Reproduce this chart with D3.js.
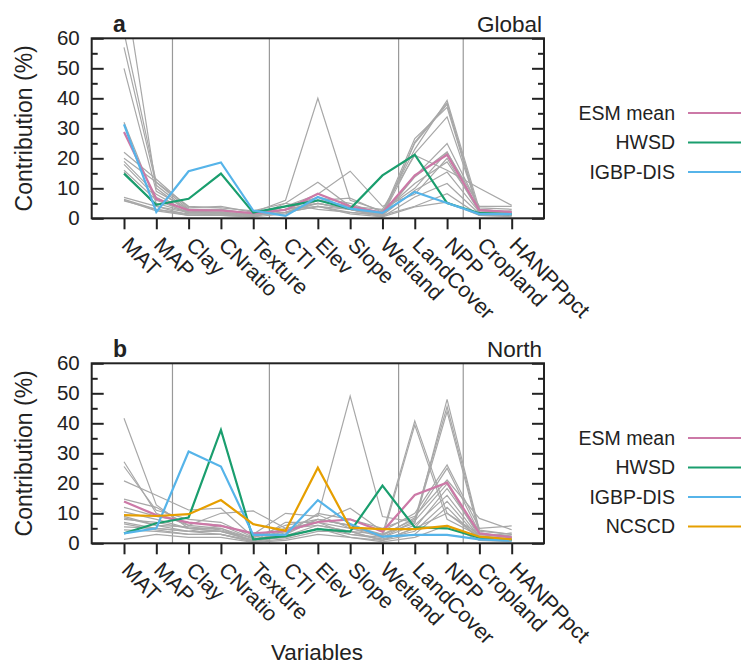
<!DOCTYPE html>
<html>
<head>
<meta charset="utf-8">
<script src="https://cdn.jsdelivr.net/npm/d3@7"></script>
<style>
body { margin: 0; background: #fff; }
svg { font-family: "Liberation Sans", Arial, Helvetica, sans-serif; }
</style>
</head>
<body>
<div id="chart"></div>
<script>
// variables (x axis), in plotting order
var variables = ["MAT", "MAP", "Clay", "CNratio", "Texture", "CTI", "Elev", "Slope", "Wetland", "LandCover", "NPP", "Cropland", "HANPPpct"];
var yTicks = [0, 10, 20, 30, 40, 50, 60];
var yMinorTicks = [5, 15, 25, 35, 45, 55];
var groupBreaks = [2.5, 5.5, 9.5, 11.5]; // gray separators between variable groups

// a: Global
var globalEsmMean = [28.8, 6.5, 2.7, 2.6, 1.7, 2.8, 8.2, 4.0, 1.8, 14.3, 21.2, 2.7, 2.1];
var globalHwsd    = [14.9, 4.5, 6.5, 14.9, 1.9, 4.0, 6.0, 3.2, 14.3, 21.2, 5.1, 1.7, 1.4];
var globalIgbp    = [31.3, 2.1, 15.7, 18.6, 2.6, 0.8, 7.1, 3.2, 1.8, 8.8, 5.1, 1.4, 1.4];
var globalModels = [
	[79, 10, 2, 2, 1, 3, 5, 3, 1, 25, 38, 2, 1.5],
	[62, 12, 3, 3, 1.5, 4, 6, 4, 2, 23, 39.3, 3, 2],
	[57, 11, 2.5, 2, 1, 2, 4, 3, 1.5, 26.6, 37, 1.5, 1],
	[50, 9, 3, 2.5, 1.5, 3, 7, 5, 1, 21.6, 33.8, 2, 2.5],
	[32, 5, 2, 3, 1, 2, 6, 4, 1, 14, 24.9, 3.5, 3],
	[22, 13, 3.5, 4, 2, 6, 40, 6, 2.5, 10, 22, 4, 4],
	[20, 12, 4, 3.5, 2.5, 5, 12, 4, 3, 21, 16, 10, 4.3],
	[19, 8, 2, 2, 1, 4, 8, 15.7, 4, 8, 20, 2, 1.5],
	[18, 7, 1.5, 1.5, 0.5, 3, 5, 3, 0.5, 25.4, 38.5, 1, 1],
	[16, 6, 2, 2, 1, 2, 4, 2, 1, 13.8, 22.1, 2.5, 2],
	[15.4, 4, 1, 1, 0.5, 1.5, 6, 6.7, 2, 11.6, 18.8, 3, 2],
	[7, 4, 2, 2, 1, 2, 5, 3, 1, 9.3, 15.4, 2, 1],
	[6.3, 3, 1.5, 1.5, 1, 4, 7, 3, 0.5, 7.1, 11.6, 1.5, 1],
	[6, 2.5, 1, 1, 0.5, 5, 3, 2, 1, 4, 8.2, 1, 0.5],
	[5.8, 3, 1, 1.5, 1, 3, 4, 1.5, 0.5, 3.8, 5.4, 1, 0.8]
];

// b: North
var northEsmMean = [13.9, 9.4, 6.9, 5.8, 3.3, 4.1, 7.1, 8.0, 3.9, 16.1, 20.2, 3.3, 2.0];
var northHwsd    = [3.3, 6.7, 8.6, 37.8, 1.3, 2.4, 4.7, 3.9, 19.2, 5.3, 5.0, 1.9, 1.1];
var northIgbp    = [3.3, 5.0, 30.6, 25.6, 2.8, 2.8, 14.4, 6.4, 2.2, 2.8, 2.8, 1.3, 0.9];
var northNcscd   = [9.4, 9.1, 9.7, 14.4, 6.4, 4.2, 25.2, 5.2, 4.7, 4.7, 5.8, 2.2, 1.3];
var northModels = [
	[41.7, 12.8, 5, 4, 2, 4, 7, 5, 3, 40.8, 10, 3, 2],
	[27.2, 10, 6, 5, 1.5, 3, 8, 6, 2, 39.4, 8, 2.5, 1.5],
	[25.6, 11, 8, 7, 2, 5, 6, 4, 3, 6.7, 48, 4.4, 3],
	[20.8, 16, 11.1, 11.7, 2, 6, 8, 6, 3, 8, 45.6, 4, 3],
	[14.7, 12, 6, 10, 10.8, 5, 7, 11.7, 4, 10, 26.1, 5, 5.8],
	[12, 9, 7, 6, 3, 10, 9, 49.1, 8.9, 7, 43.9, 3, 2],
	[10.5, 8, 5, 4, 1, 3, 10, 8, 5, 9, 21.1, 8.3, 4.5],
	[9, 6, 4, 4, 1, 2, 5, 3, 2, 7.5, 19.8, 2, 1],
	[8, 7, 5, 5, 0.5, 2.5, 6, 4, 1, 5, 18.3, 3, 2.5],
	[7, 5, 4, 3, 1, 4, 9.5, 5, 2, 6, 16, 2, 1.5],
	[6.5, 4.5, 3, 3, 0.5, 7, 7, 3, 1.5, 4, 14, 1.5, 1],
	[5.5, 5, 4, 6, 1.5, 2, 5, 2, 1, 3, 12, 1, 0.5],
	[4.5, 4, 3, 3, 0.5, 1.5, 4, 4, 1, 5, 10, 2, 3.5],
	[1.3, 3, 2, 2, 0.3, 1, 3, 2, 0.5, 2, 6, 1, 1],
	[8.5, 6, 5.5, 4.5, 1, 3.5, 8, 6, 2.5, 8.5, 25, 3.5, 2]
];

var colors = { esm: "#cc79a7", hwsd: "#1a9e6e", igbp: "#56b4e9", ncscd: "#e69f00" };

var panels = [
	{ letter: "a", region: "Global", bottom: 218.3, models: globalModels, series: [
		{ name: "ESM mean", color: colors.esm, values: globalEsmMean },
		{ name: "HWSD", color: colors.hwsd, values: globalHwsd },
		{ name: "IGBP-DIS", color: colors.igbp, values: globalIgbp }
	] },
	{ letter: "b", region: "North", bottom: 543.3, models: northModels, series: [
		{ name: "ESM mean", color: colors.esm, values: northEsmMean },
		{ name: "HWSD", color: colors.hwsd, values: northHwsd },
		{ name: "IGBP-DIS", color: colors.igbp, values: northIgbp },
		{ name: "NCSCD", color: colors.ncscd, values: northNcscd }
	] }
];

var width = 741, height = 665;
var svg = d3.select("#chart").append("svg").attr("width", width).attr("height", height);

var x = d3.scaleLinear().domain([0, 14]).range([91.7, 544]);

function drawPanel(p){
	var y = d3.scaleLinear().domain([0, 60]).range([p.bottom, p.bottom - 180]);
	var g = svg.append("g").attr("class", "panel-" + p.letter);
	var clipId = "clip-" + p.letter;

	svg.append("clipPath").attr("id", clipId)
		.append("rect")
			.attr("x", x(0)).attr("y", y(60))
			.attr("width", x(14) - x(0)).attr("height", y(0) - y(60));

	g.selectAll(".sep")
			.data(groupBreaks)
		.enter().append("line")
			.attr("class", "sep")
			.attr("x1", d => x(d)).attr("x2", d => x(d))
			.attr("y1", y(0)).attr("y2", y(60))
			.attr("stroke", "#999").attr("stroke-width", 1.2);

	var line = d3.line().x((d, i) => x(i + 1)).y(d => y(d));
	var lines = g.append("g").attr("clip-path", "url(#" + clipId + ")");

	lines.selectAll(".model")
			.data(p.models)
		.enter().append("path")
			.attr("class", "model")
			.attr("d", line)
			.attr("fill", "none")
			.attr("stroke", "#a8a8a8")
			.attr("stroke-width", 1.2);

	lines.selectAll(".series")
			.data(p.series)
		.enter().append("path")
			.attr("class", "series")
			.attr("d", d => line(d.values))
			.attr("fill", "none")
			.attr("stroke", d => d.color)
			.attr("stroke-width", 2.2);

	// y axes, ticks pointing into the plot on both sides
	var left = g.append("g").attr("transform", "translate(" + x(0) + ",0)")
		.call(d3.axisLeft(y).tickValues(yTicks).tickSize(-12).tickPadding(12));
	left.append("g")
		.call(d3.axisLeft(y).tickValues(yMinorTicks).tickSize(-6).tickFormat(""));

	var right = g.append("g").attr("transform", "translate(" + x(14) + ",0)")
		.call(d3.axisRight(y).tickValues(yTicks).tickSize(-12).tickFormat(""));
	right.append("g")
		.call(d3.axisRight(y).tickValues(yMinorTicks).tickSize(-6).tickFormat(""));

	var bottom = g.append("g").attr("transform", "translate(0," + y(0) + ")")
		.call(d3.axisBottom(x).tickValues(d3.range(1, 14)).tickSize(11).tickFormat(i => variables[i - 1]));

	g.selectAll(".domain").remove();
	g.selectAll(".tick line").attr("stroke", "#222").attr("stroke-width", 2);
	g.selectAll(".tick text").attr("fill", "#222").style("font-size", "20.5px").style("font-family", "Liberation Sans, Arial, sans-serif");

	bottom.selectAll("text")
		.attr("x", 0).attr("y", 0).attr("dy", 0)
		.attr("text-anchor", "start")
		.style("font-size", "21.5px")
		.attr("transform", "translate(-4,28) rotate(45)");

	g.append("rect")
		.attr("x", x(0)).attr("y", y(60))
		.attr("width", x(14) - x(0)).attr("height", y(0) - y(60))
		.attr("fill", "none").attr("stroke", "#222").attr("stroke-width", 2);

	g.append("text")
		.attr("x", 113).attr("y", y(60) - 6)
		.style("font-size", "23px").style("font-weight", "bold").attr("fill", "#222")
		.text(p.letter);

	g.append("text")
		.attr("x", 542).attr("y", y(60) - 6)
		.attr("text-anchor", "end")
		.style("font-size", "22.5px").attr("fill", "#222")
		.text(p.region);

	g.append("text")
		.attr("transform", "translate(32," + (y(30)) + ") rotate(-90)")
		.attr("text-anchor", "middle")
		.style("font-size", "23px").attr("fill", "#222")
		.text("Contribution (%)");

	// legend
	var legend = g.selectAll(".legend")
			.data(p.series)
		.enter().append("g")
			.attr("class", "legend")
			.attr("transform", (d, i) => "translate(0," + (y(60) + 74.7 + i * 29.5) + ")");

	legend.append("text")
		.attr("x", 675).attr("dy", "0.35em")
		.attr("text-anchor", "end")
		.style("font-size", "19.5px").attr("fill", "#222")
		.text(d => d.name);

	legend.append("line")
		.attr("x1", 688).attr("x2", 741)
		.attr("stroke", d => d.color).attr("stroke-width", 2.2);
}

panels.forEach(drawPanel);

svg.append("text")
	.attr("x", 317).attr("y", 660)
	.attr("text-anchor", "middle")
	.style("font-size", "22.5px").attr("fill", "#222")
	.text("Variables");
</script>
</body>
</html>
